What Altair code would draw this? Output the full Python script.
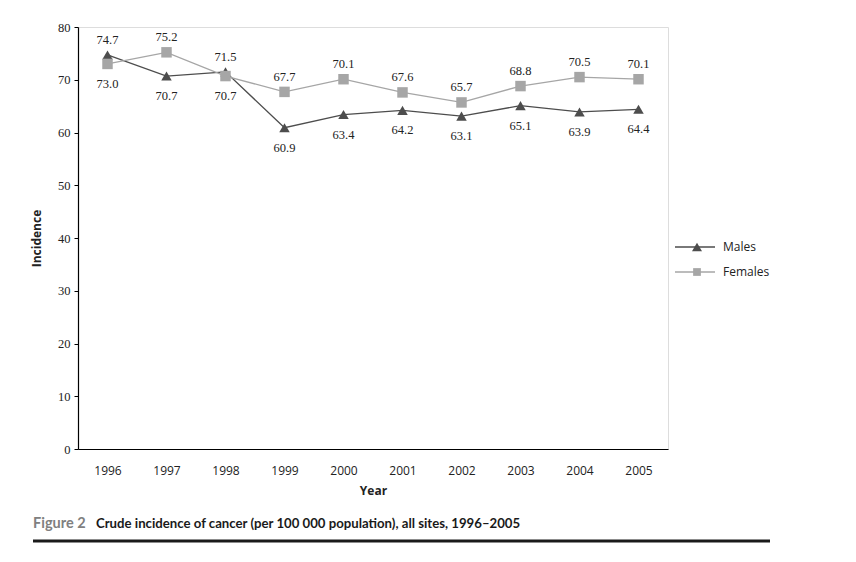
import altair as alt
import pandas as pd

years = ["1996", "1997", "1998", "1999", "2000", "2001", "2002", "2003", "2004", "2005"]
males = [74.7, 70.7, 71.5, 60.9, 63.4, 64.2, 63.1, 65.1, 63.9, 64.4]
females = [73.0, 75.2, 70.7, 67.7, 70.1, 67.6, 65.7, 68.8, 70.5, 70.1]
series = ["Males", "Females"]
y_ticks = [0, 10, 20, 30, 40, 50, 60, 70, 80]
caption_lead = "Figure 2"
caption_text = "Crude incidence of cancer (per 100 000 population), all sites, 1996–2005"

rows = []
for i, yr in enumerate(years):
    rows.append({"Year": yr, "Series": "Males", "Value": males[i],
                 "above": males[i] >= females[i], "label": f"{males[i]:.1f}"})
    rows.append({"Year": yr, "Series": "Females", "Value": females[i],
                 "above": females[i] > males[i], "label": f"{females[i]:.1f}"})
df = pd.DataFrame(rows)

MALE_C = "#4d4d4d"
FEM_C = "#a6a6a6"
color_scale = alt.Scale(domain=series, range=[MALE_C, FEM_C])
shape_scale = alt.Scale(domain=series, range=["triangle-up", "square"])

x_enc = alt.X("Year:O", scale=alt.Scale(type="point", padding=0.5),
              axis=alt.Axis(title="Year", labelAngle=0, ticks=False, grid=False,
                            domainColor="black", domainWidth=1.2,
                            labelFont="Open Sans", labelFontSize=12, labelColor="#222",
                            labelPadding=16, titleFont="Open Sans", titleFontSize=12,
                            titleFontWeight="bold", titleColor="#222", titlePadding=9))
y_enc = alt.Y("Value:Q", scale=alt.Scale(domain=[0, 80], nice=False),
              axis=alt.Axis(title="Incidence", values=y_ticks, grid=False,
                            tickSize=4, tickColor="black", domainColor="black",
                            domainWidth=1.2, labelFont="Liberation Serif",
                            labelFontSize=12.5, labelColor="#222", labelPadding=4,
                            titleFont="Open Sans", titleFontSize=12,
                            titleFontWeight="bold", titleColor="#222", titlePadding=14))

base = alt.Chart(df)

lines = base.mark_line(strokeWidth=1.3).encode(
    x=x_enc, y=y_enc,
    color=alt.Color("Series:N", scale=color_scale, legend=None),
    detail="Series:N",
)
points = base.mark_point(filled=True, opacity=1, size=110).encode(
    x="Year:O", y="Value:Q",
    color=alt.Color("Series:N", scale=color_scale, legend=None),
    shape=alt.Shape("Series:N", scale=shape_scale, legend=None),
)
labels_above = base.transform_filter("datum.above").mark_text(
    dy=-15, font="Liberation Serif", fontSize=12.5, color="#222"
).encode(x="Year:O", y="Value:Q", text="label:N")
labels_below = base.transform_filter("!datum.above").mark_text(
    dy=20, font="Liberation Serif", fontSize=12.5, color="#222"
).encode(x="Year:O", y="Value:Q", text="label:N")

# manual legend
leg_df = pd.DataFrame({"Series": series})
def legend_item(name, color, shape, yp, size):
    d = alt.Chart(leg_df).transform_filter(alt.datum.Series == name)
    ln = d.mark_rule(color=color, strokeWidth=1.3).encode(
        x=alt.value(597), x2=alt.value(637), y=alt.value(yp))
    pt = d.mark_point(filled=True, opacity=1, color=color, shape=shape, size=size).encode(
        x=alt.value(619), y=alt.value(yp))
    tx = d.mark_text(align="left", baseline="middle", font="Open Sans", fontSize=12,
                     color="#222").encode(x=alt.value(645), y=alt.value(yp), text="Series:N")
    return ln + pt + tx

leg_m = legend_item("Males", MALE_C, "triangle-up", 220, 100)
leg_f = legend_item("Females", FEM_C, "square", 245, 60)

cap_df = pd.DataFrame({"lead": [caption_lead], "text": [caption_text]})
cap1 = alt.Chart(cap_df).mark_text(align="left", baseline="middle", font="Lato",
                                   fontSize=14.5, fontWeight="bold", color="#808080").encode(
    x=alt.value(-45), y=alt.value(497), text="lead:N")
cap2 = alt.Chart(cap_df).mark_text(align="left", baseline="middle", font="Lato",
                                   fontSize=13.2, fontWeight="bold", color="#1a1a1a").encode(
    x=alt.value(18), y=alt.value(497), text="text:N")
rule = alt.Chart(cap_df).mark_rule(color="#1a1a1a", strokeWidth=3).encode(
    x=alt.value(-45), x2=alt.value(692), y=alt.value(514))

chart = alt.layer(lines, points, labels_above, labels_below, leg_m, leg_f, cap1, cap2, rule).properties(
    width=590, height=422,
    autosize=alt.AutoSizeParams(type="none"),
    padding={"left": 70, "top": 19, "right": 150, "bottom": 100},
).configure_view(stroke=None).configure(background="white")

chart.save("out.html", embed_options={"renderer": "svg", "actions": False})
